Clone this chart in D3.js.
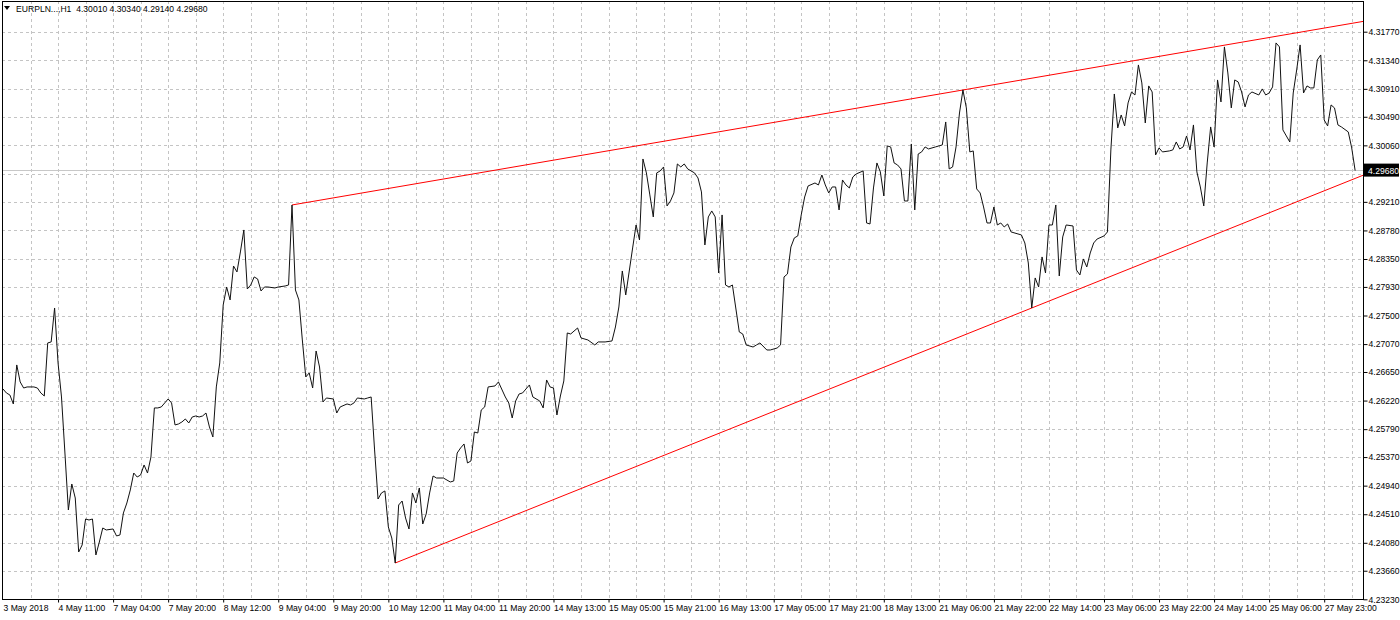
<!DOCTYPE html>
<html>
<head>
<meta charset="utf-8">
<script src="https://cdn.jsdelivr.net/npm/d3@7"></script>
<style>
  html, body { margin: 0; padding: 0; background: #ffffff; }
  svg { display: block; }
  text { font-family: "Liberation Sans", Arial, sans-serif; font-size: 8.6px; fill: #000; }
</style>
</head>
<body>
<svg id="chart" width="1400" height="620"></svg>
<script>
// ---------------- DATA ----------------
const symbolTitle = "EURPLN...,H1";
const ohlcValues = ["4.30010", "4.30340", "4.29140", "4.29680"];
const lastPrice = 4.29680;

// [bar index, close price]
const closes = [
[0,4.26394],[1,4.26334],[2,4.26304],[3,4.26169],[4,4.26756],[5,4.26500],[6,4.26409],[7,4.26425],[9,4.26425],[10,4.26409],
[11,4.26334],[12,4.26289],[13,4.27087],[14,4.27102],[15,4.27613],[16,4.26786],[17,4.26274],[18,4.25431],[19,4.24574],[20,4.24965],
[21,4.24754],[22,4.23942],[23,4.24047],[24,4.24438],[25,4.24423],[26,4.24438],[27,4.23897],[28,4.24092],[29,4.24303],[30,4.24273],
[32,4.24288],[33,4.24183],[34,4.24198],[35,4.24529],[36,4.24679],[37,4.24875],[38,4.25130],[39,4.25070],[40,4.25100],[41,4.25251],
[42,4.25130],[43,4.25371],[44,4.26109],[45,4.26109],[46,4.26124],[47,4.26184],[48,4.26244],[49,4.26184],[50,4.25853],[51,4.25868],
[52,4.25898],[53,4.25943],[54,4.25883],[55,4.25973],[56,4.25988],[57,4.25973],[58,4.25988],[59,4.26033],[60,4.25823],[61,4.25672],
[62,4.26425],[63,4.26786],[64,4.27658],[65,4.27929],[66,4.27734],[67,4.28245],[68,4.28155],[69,4.28456],[70,4.28787],[71,4.27899],
[72,4.27959],[73,4.28080],[74,4.28050],[75,4.27869],[76,4.27929],[77,4.27929],[79,4.27914],[80,4.27929],[82,4.27944],[83,4.27959],
[84,4.29163],[85,4.27884],[86,4.27734],[87,4.27132],[88,4.26575],[89,4.26635],[90,4.26409],[91,4.26966],[92,4.26725],[93,4.26199],
[94,4.26259],[96,4.26244],[97,4.26033],[98,4.26124],[100,4.26169],[101,4.26154],[102,4.26184],[103,4.26259],[105,4.26244],[106,4.26259],
[107,4.26274],[108,4.25477],[109,4.24739],[110,4.24830],[111,4.24860],[112,4.24318],[113,4.24152],[114,4.23776],[115,4.24649],[116,4.24709],
[117,4.24453],[118,4.24288],[119,4.24830],[120,4.24679],[121,4.24905],[122,4.24363],[123,4.24514],[124,4.24830],[125,4.25085],[126,4.25055],
[128,4.25055],[130,4.24995],[131,4.25010],[132,4.25431],[133,4.25507],[134,4.25567],[135,4.25281],[136,4.25311],[137,4.25747],[138,4.25732],
[139,4.26078],[140,4.26124],[141,4.26425],[143,4.26440],[144,4.26500],[146,4.26274],[147,4.26184],[148,4.25958],[149,4.26214],[150,4.26319],
[151,4.26334],[153,4.26455],[154,4.26274],[156,4.26214],[157,4.26109],[158,4.26530],[159,4.26425],[160,4.26409],[161,4.26003],[162,4.26289],
[163,4.26515],[164,4.27237],[165,4.27222],[167,4.27312],[168,4.27162],[170,4.27132],[172,4.27057],[173,4.27102],[175,4.27102],[177,4.27117],
[178,4.27327],[179,4.27628],[180,4.28170],[181,4.27809],[183,4.28516],[184,4.28862],[185,4.28636],[186,4.29855],[187,4.29645],[188,4.29314],
[189,4.28983],[190,4.29645],[191,4.29675],[192,4.29735],[193,4.29148],[194,4.29223],[195,4.29344],[196,4.29780],[197,4.29735],[198,4.29780],
[199,4.29705],[201,4.29645],[202,4.29569],[203,4.29359],[204,4.28561],[205,4.28983],[206,4.29073],[207,4.28983],[208,4.28140],[209,4.29013],
[210,4.27959],[211,4.27929],[212,4.27959],[214,4.27252],[215,4.27222],[216,4.27057],[218,4.27026],[219,4.27057],[220,4.27087],[222,4.26981],
[223,4.26981],[225,4.27011],[226,4.27057],[227,4.28080],[228,4.28125],[229,4.28531],[230,4.28667],[231,4.28697],[232,4.29013],[233,4.29283],
[234,4.29449],[236,4.29494],[237,4.29464],[238,4.29614],[239,4.29464],[240,4.29344],[241,4.29434],[242,4.29434],[243,4.29088],[244,4.29539],
[245,4.29464],[246,4.29419],[247,4.29584],[248,4.29630],[250,4.29675],[251,4.28892],[252,4.28877],[253,4.29419],[254,4.29795],[255,4.29660],
[256,4.29299],[257,4.30051],[258,4.30036],[259,4.29795],[260,4.29765],[261,4.29705],[262,4.29223],[263,4.29223],[264,4.30081],[265,4.29088],
[266,4.29930],[267,4.29961],[268,4.30036],[269,4.30006],[271,4.30036],[272,4.30051],[273,4.30066],[274,4.30412],[275,4.29705],[276,4.29735],
[277,4.30036],[278,4.30547],[279,4.30893],[280,4.30623],[281,4.29961],[282,4.29976],[283,4.29404],[284,4.29344],[285,4.29133],[286,4.28892],
[287,4.28892],[288,4.29133],[289,4.28862],[290,4.28892],[291,4.28832],[292,4.28877],[293,4.28757],[295,4.28727],[296,4.28712],[297,4.28591],
[298,4.28290],[299,4.27613],[300,4.28065],[301,4.27929],[302,4.28381],[303,4.28140],[304,4.28862],[305,4.28862],[306,4.29163],[307,4.28095],
[308,4.28682],[309,4.28862],[311,4.28847],[312,4.28185],[313,4.28110],[314,4.28351],[315,4.28230],[316,4.28441],[317,4.28591],[318,4.28651],
[320,4.28697],[321,4.28757],[322,4.29991],[323,4.30833],[324,4.30322],[325,4.30517],[326,4.30352],[327,4.30698],[328,4.30863],[329,4.30818],
[330,4.31270],[331,4.30999],[332,4.30397],[333,4.30954],[334,4.30863],[335,4.29915],[336,4.30021],[337,4.29961],[339,4.29976],[340,4.29991],
[341,4.30111],[342,4.30006],[343,4.30036],[344,4.30201],[345,4.29991],[346,4.30367],[347,4.29660],[348,4.29434],[349,4.29148],[350,4.29795],
[351,4.30337],[352,4.30036],[353,4.31044],[354,4.30713],[355,4.31541],[356,4.31149],[357,4.30623],[358,4.31044],[359,4.31014],[360,4.30863],
[361,4.30638],[362,4.30818],[363,4.30863],[365,4.30818],[366,4.30909],[367,4.30818],[368,4.30848],[369,4.30939],[370,4.31601],[371,4.31541],
[372,4.30292],[373,4.30201],[374,4.30111],[375,4.30848],[376,4.31194],[377,4.31571],[378,4.30848],[379,4.30954],[380,4.30924],[381,4.30924],
[382,4.31345],[383,4.31420],[384,4.30442],[385,4.30352],[386,4.30668],[387,4.30623],[388,4.30367],[389,4.30337],[391,4.30262],[392,4.30021],
[393,4.29680]
];

// trend lines: two anchor points each [bar, price]
const trendUpper = [[84, 4.29163], [279, 4.30893]];
const trendLower = [[114, 4.23776], [299, 4.27613]];

const xTickBars = [0,16,32,48,64,80,96,112,128,144,160,176,192,208,224,240,256,272,288,304,320,336,352,368,384];
const xTickLabels = ["3 May 2018","4 May 11:00","7 May 04:00","7 May 20:00","8 May 12:00","9 May 04:00","9 May 20:00",
  "10 May 12:00","11 May 04:00","11 May 20:00","14 May 13:00","15 May 05:00","15 May 21:00","16 May 13:00","17 May 05:00",
  "17 May 21:00","18 May 13:00","21 May 06:00","21 May 22:00","22 May 14:00","23 May 06:00","23 May 22:00","24 May 14:00",
  "25 May 06:00","27 May 23:00"];
// price-grid levels; the one at 4.29630 is covered by the current-price tag, so it has no label
const yTickValues = [4.23230,4.23660,4.24080,4.24510,4.24940,4.25370,4.25790,4.26220,4.26650,4.27070,4.27500,
  4.27930,4.28350,4.28780,4.29210,4.29630,4.30060,4.30490,4.30910,4.31340,4.31770];
const yHiddenLabel = 4.29630;
const gridEveryBars = 8;

// ---------------- LAYOUT ----------------
const plotLeft = 2, plotRight = 1363, plotTop = 1, plotBottom = 599;
const barStep = 3.4406;
const firstBarX = 3;
const lastVisibleBar = (plotRight - firstBarX) / barStep;

const svg = d3.select("#chart");

const x = d3.scaleLinear().domain([0, lastVisibleBar]).range([firstBarX, plotRight]);
const y = d3.scaleLinear().domain([4.23230, 4.31770]).range([599.3, 31.7]);

svg.append("defs").append("clipPath").attr("id", "plotClip")
  .append("rect").attr("x", plotLeft).attr("y", plotTop)
  .attr("width", plotRight - plotLeft).attr("height", plotBottom - plotTop);

const plot = svg.append("g").attr("clip-path", "url(#plotClip)");

// grid - horizontal
plot.append("g").selectAll("line").data(yTickValues).join("line")
  .attr("x1", plotLeft).attr("x2", plotRight)
  .attr("y1", d => Math.round(y(d)) + 0.5).attr("y2", d => Math.round(y(d)) + 0.5)
  .attr("stroke", "#c4c4c4").attr("stroke-width", 1).attr("stroke-dasharray", "3,3");

// grid - vertical
const gridBars = d3.range(gridEveryBars, lastVisibleBar, gridEveryBars);
plot.append("g").selectAll("line").data(gridBars).join("line")
  .attr("x1", d => Math.round(x(d)) + 0.5).attr("x2", d => Math.round(x(d)) + 0.5)
  .attr("y1", plotTop).attr("y2", plotBottom)
  .attr("stroke", "#c4c4c4").attr("stroke-width", 1).attr("stroke-dasharray", "3,3");

// current price line
plot.append("line")
  .attr("x1", plotLeft).attr("x2", plotRight)
  .attr("y1", Math.round(y(lastPrice)) - 0.5).attr("y2", Math.round(y(lastPrice)) - 0.5)
  .attr("stroke", "#c8c8c8").attr("stroke-width", 1);

// trend lines (rays extended to the right edge)
function rayPoints(t) {
  const [p0, p1] = t;
  const slope = (p1[1] - p0[1]) / (p1[0] - p0[0]);
  return [p0, [lastVisibleBar, p0[1] + slope * (lastVisibleBar - p0[0])]];
}
const lineGen = d3.line().x(d => x(d[0])).y(d => y(d[1]));
[trendUpper, trendLower].forEach(t => {
  plot.append("path").attr("d", lineGen(rayPoints(t)))
    .attr("fill", "none").attr("stroke", "#ff0000").attr("stroke-width", 1);
});

// close line
plot.append("path").datum(closes).attr("d", lineGen)
  .attr("fill", "none").attr("stroke", "#111111").attr("stroke-width", 1)
  .attr("stroke-linejoin", "miter");

// frame
svg.append("rect").attr("x", plotLeft + 0.5).attr("y", plotTop + 0.5)
  .attr("width", plotRight - plotLeft).attr("height", plotBottom - plotTop)
  .attr("fill", "none").attr("stroke", "#000").attr("stroke-width", 1);

// right axis
const yAxis = d3.axisRight(y).tickValues(yTickValues)
  .tickFormat(d => d === yHiddenLabel ? "" : d.toFixed(5))
  .tickSize(4).tickSizeOuter(0).tickPadding(1);
const gy = svg.append("g").attr("transform", `translate(${plotRight + 0.5},0)`).call(yAxis);
gy.select(".domain").remove();
gy.selectAll(".tick line").attr("stroke", "#000");
gy.selectAll(".tick text").attr("font-family", null).attr("font-size", null)
  .style("font-family", '"Liberation Sans", Arial, sans-serif').style("font-size", "8.6px").attr("fill", "#000");

// bottom axis
const xAxis = d3.axisBottom(x).tickValues(xTickBars).tickFormat((d, i) => xTickLabels[i])
  .tickSize(3).tickSizeOuter(0);
const gx = svg.append("g").attr("transform", `translate(0,${plotBottom + 0.5})`).call(xAxis);
gx.select(".domain").remove();
gx.selectAll(".tick line").attr("stroke", "#000");
gx.selectAll(".tick text").attr("text-anchor", "start").attr("x", 0).attr("y", 5).attr("dy", "0.71em")
  .attr("font-family", null).attr("font-size", null)
  .style("font-family", '"Liberation Sans", Arial, sans-serif').style("font-size", "8.6px").attr("fill", "#000");
gx.select(".tick line").attr("opacity", 0); // first label sits at the frame corner

// current price label box
const py = y(lastPrice);
svg.append("rect").attr("x", plotRight + 1).attr("y", py - 7).attr("width", 35).attr("height", 13).attr("fill", "#000");
svg.append("text").attr("x", plotRight + 5).attr("y", py).attr("dy", "0.35em").attr("fill", "#fff")
  .style("fill", "#fff").text(lastPrice.toFixed(5));

// header
svg.append("path").attr("d", "M4,6 L10,6 L7,10 Z").attr("fill", "#000");
svg.append("text").attr("x", 16).attr("y", 12).text(symbolTitle + "  " + ohlcValues.join(" "))
  .attr("xml:space", "preserve").style("white-space", "pre");
</script>
</body>
</html>
